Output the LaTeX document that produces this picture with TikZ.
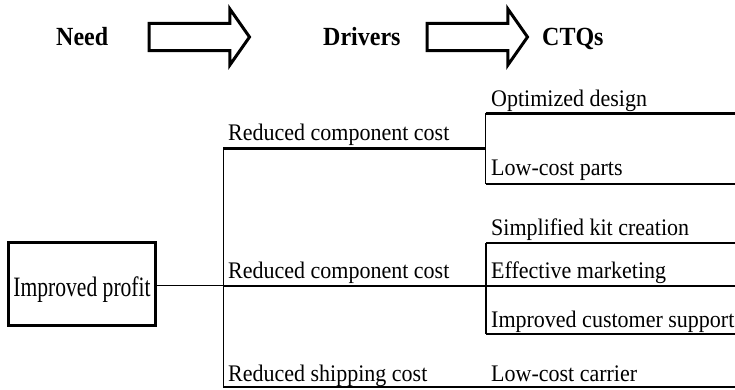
\documentclass[tikz,border=0pt]{standalone}
\usepackage{fontspec}
\usepackage{graphicx}
\setmainfont{Liberation Serif}
\usetikzlibrary{shapes.arrows}
\newcommand{\talltext}[2]{\scalebox{1}[#1]{#2}}

\begin{document}
\begin{tikzpicture}[
  x=1pt, y=-1pt,
  hdr/.style={font=\fontsize{24}{28}\selectfont\bfseries, inner sep=0pt, anchor=base west},
  lab/.style={font=\fontsize{22}{24}\selectfont, inner sep=0pt, anchor=base west},
  bigarrow/.style={single arrow, draw, line width=3pt, minimum height=100.5pt,
              inner xsep=0pt, inner ysep=12.2pt, single arrow head extend=14.3pt,
              single arrow tip angle=110, anchor=tail},
  rootbox/.style={rectangle, draw, line width=2.7pt, minimum width=147.3pt,
              minimum height=83pt, inner sep=0pt, text height=28pt, text depth=2.3pt,
              font=\fontsize{21.6}{24}\selectfont},
  stem/.style={line width=1.2pt},
  branch/.style={line width=2.4pt},
]
\useasboundingbox (0,0) rectangle (735,389);
% header row
\node[hdr] (need) at (56,45) {\talltext{1.09}{Need}};
\node[bigarrow] (arrow1) at (147.5,37) {};
\node[hdr] (drivers) at (323,45) {\talltext{1.09}{Drivers}};
\node[bigarrow] (arrow2) at (425.5,37) {};
\node[hdr] (ctqs) at (542,45) {\talltext{1.09}{CTQs}};
% need
\node[rootbox] (root) at (82,283.85) {\talltext{1.3}{Improved profit}};
% tree joints
\coordinate (trunk) at (223.3,285.7);
\coordinate (trunktop) at (223.3,148.3);
\coordinate (trunkbot) at (223.3,387);
\coordinate (fork1) at (485.5,148.3);
\coordinate (fork1top) at (485.5,113.3);
\coordinate (fork1bot) at (485.5,184);
\coordinate (fork2top) at (486,242.7);
\coordinate (fork2bot) at (486,334);
\coordinate (end1a) at (736,113.3);
\coordinate (end1b) at (736,184);
\coordinate (end2a) at (736,242.7);
\coordinate (endmid) at (736,285.7);
\coordinate (end2b) at (736,334);
\coordinate (endbot) at (736,387);
\draw[stem] (trunk -| root.east) -- (trunk);
\draw[stem] (trunktop) -- (trunkbot);
\draw[branch] (trunktop) -- (fork1);
\draw[branch] (trunk) -- (endmid);
\draw[branch] (trunkbot) -- (endbot);
\draw[stem] (fork1top) -- (fork1bot);
\draw[branch] (fork1top) -- (end1a);
\draw[branch] (fork1bot) -- (end1b);
\draw[stem] (fork2top) -- (fork2bot);
\draw[branch] (fork2top) -- (end2a);
\draw[branch] (fork2bot) -- (end2b);
% drivers
\node[lab] (drv1) at (228,140.5) {\talltext{1.08}{Reduced component cost}};
\node[lab] (drv2) at (228,278.5) {\talltext{1.08}{Reduced component cost}};
\node[lab] (drv3) at (228,381.5) {\talltext{1.08}{Reduced shipping cost}};
% ctqs
\node[lab] (ctq1) at (491,106.5) {\talltext{1.08}{Optimized design}};
\node[lab] (ctq2) at (491,175.5) {\talltext{1.08}{Low-cost parts}};
\node[lab] (ctq3) at (491,235) {\talltext{1.08}{Simplified kit creation}};
\node[lab] (ctq4) at (491,278.5) {\talltext{1.08}{Effective marketing}};
\node[lab] (ctq5) at (491,327) {\talltext{1.08}{Improved customer support}};
\node[lab] (ctq6) at (491,381.5) {\talltext{1.08}{Low-cost carrier}};
\end{tikzpicture}
\end{document}
